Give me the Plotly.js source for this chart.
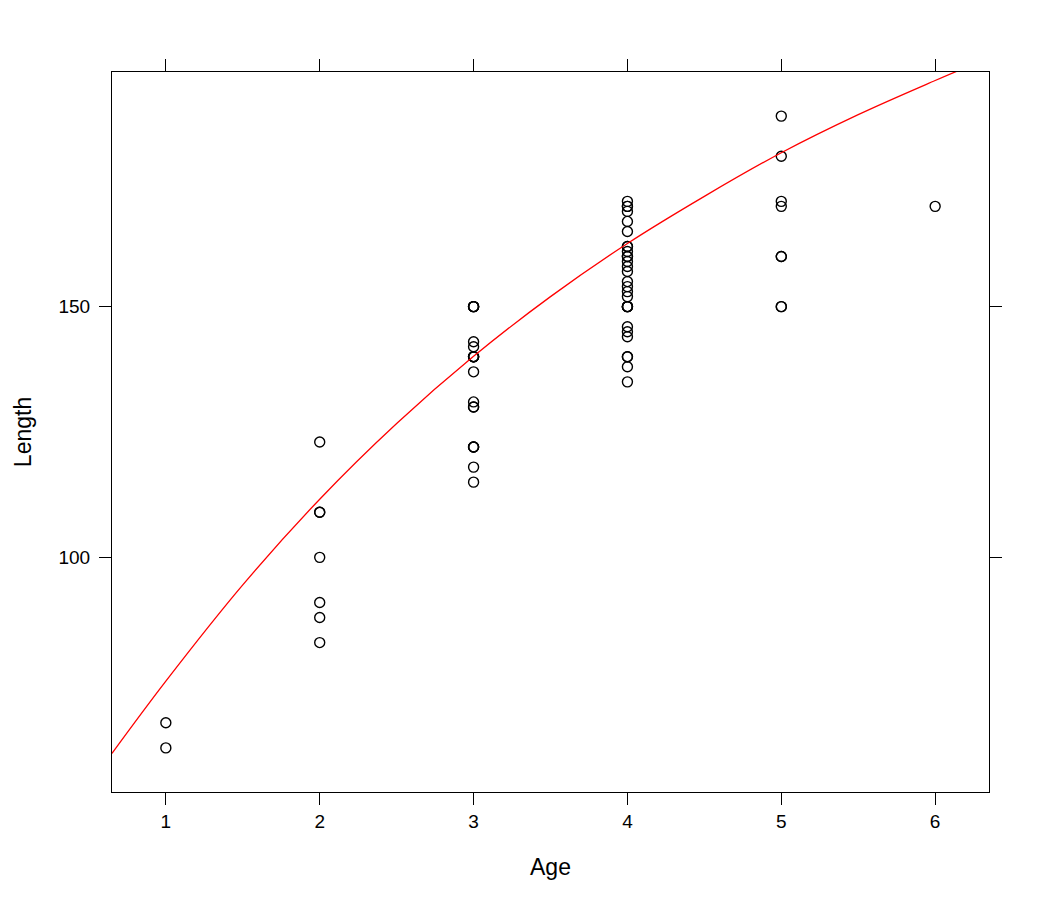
<!DOCTYPE html>
<html>
<head>
<meta charset="utf-8">
<script src="https://cdn.plot.ly/plotly-3.0.1.min.js"></script>
<style>
  html, body { margin: 0; padding: 0; background: #ffffff; }
  #chart { width: 1050px; height: 900px; }
</style>
</head>
<body>
<div id="chart"></div>
<script>
const lengthsAge1 = [67, 62];
const lengthsAge2 = [123, 109, 109, 100, 91, 88, 83];
const lengthsAge3 = [150, 150, 150, 150, 143, 142, 140, 140, 140, 140, 137, 131, 130, 130, 122, 122, 122, 118, 115];
const lengthsAge4 = [171, 170, 170, 169, 167, 165, 162, 162, 161, 160, 160, 159, 158, 157, 155, 154, 153, 152,
                     150, 150, 150, 150, 146, 145, 144, 140, 140, 138, 135];
const lengthsAge5 = [188, 180, 171, 170, 160, 160, 150, 150];
const lengthsAge6 = [170];

const ages = [1, 2, 3, 4, 5, 6];
const lengthGroups = [lengthsAge1, lengthsAge2, lengthsAge3, lengthsAge4, lengthsAge5, lengthsAge6];

// Fitted growth curve at several ages
const curveAge    = [0.65, 1.0, 1.5, 2.0, 2.5, 3.0, 3.5, 4.0, 4.5, 5.0, 5.5, 6.0, 6.3];
const curveLength = [60.9, 75.3, 94.5, 111.6, 126.7, 140.1, 152.0, 162.6, 172.0, 180.7, 188.3, 195.1, 199.0];

// Axis ticks
const xTicks = [1, 2, 3, 4, 5, 6];
const yTicks = [100, 150];

// Pair each length with its age group
const pointX = [];
const pointY = [];
lengthGroups.forEach((group, i) => {
  group.forEach(v => { pointX.push(ages[i]); pointY.push(v); });
});

const font = 'Liberation Sans, Arial, Helvetica, sans-serif';

const traces = [
  {
    type: 'scatter',
    mode: 'markers',
    x: pointX,
    y: pointY,
    marker: {
      symbol: 'circle-open',
      size: 10,
      color: '#000000',
      line: { color: '#000000', width: 1.4 }
    },
    showlegend: false
  },
  {
    type: 'scatter',
    mode: 'lines',
    x: curveAge,
    y: curveLength,
    line: { color: '#ff0000', width: 1.3, shape: 'spline', smoothing: 1 },
    showlegend: false
  }
];

const axisCommon = {
  showgrid: false,
  zeroline: false,
  showline: true,
  linecolor: '#000000',
  linewidth: 1,
  mirror: 'ticks',
  ticks: 'outside',
  ticklen: 12,
  tickwidth: 1,
  tickcolor: '#000000',
  tickfont: { family: font, size: 19, color: '#000000' },
  automargin: false
};

const layout = {
  width: 1050,
  height: 900,
  margin: { l: 112, r: 61, t: 72, b: 108 },
  paper_bgcolor: '#ffffff',
  plot_bgcolor: '#ffffff',
  showlegend: false,
  xaxis: Object.assign({}, axisCommon, {
    range: [0.65, 6.35],
    tickvals: xTicks,
    ticktext: xTicks.map(String),
    title: { text: 'Age', font: { family: font, size: 23, color: '#000000' }, standoff: 28 }
  }),
  yaxis: Object.assign({}, axisCommon, {
    range: [53.2, 196.8],
    tickvals: yTicks,
    ticktext: yTicks.map(String),
    tickangle: 0,
    ticklabelstandoff: 5,
    title: { text: 'Length', font: { family: font, size: 23, color: '#000000' }, standoff: 20 }
  })
};

Plotly.newPlot('chart', traces, layout, { displayModeBar: false, staticPlot: true });
</script>
</body>
</html>
